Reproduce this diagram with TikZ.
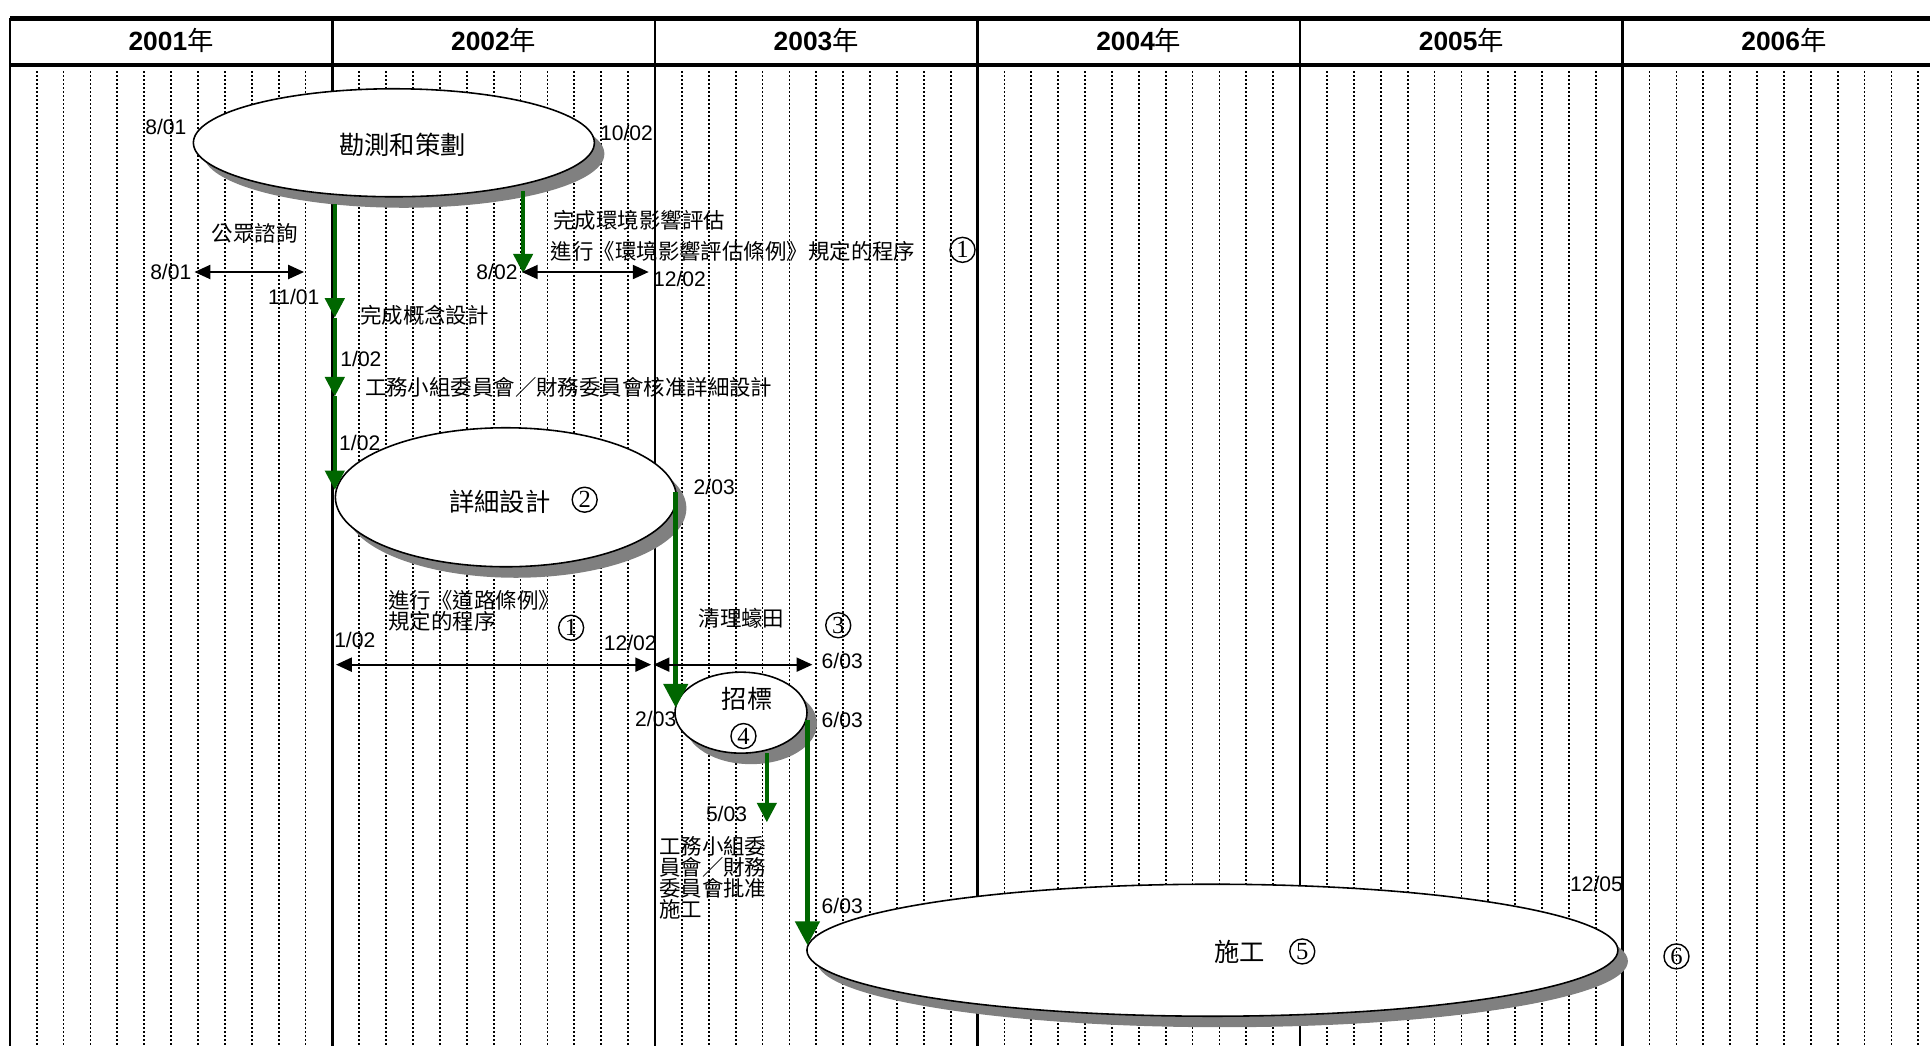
\documentclass[tikz,border=0pt]{standalone}
\usepackage{fontspec}
\setmainfont{Liberation Sans}
\newfontfamily\cjk{Noto Sans CJK TC}
\newfontfamily\numserif{Liberation Serif}
\usetikzlibrary{shapes.geometric, arrows.meta, shadows}
\definecolor{arrowgreen}{RGB}{0,102,0}
\definecolor{shadowgray}{RGB}{128,128,128}

\begin{document}
\begin{tikzpicture}[x=0.1231mm, y=-0.1231mm,
    yearlbl/.style={font=\fontsize{7.5}{9}\selectfont},
    datelbl/.style={inner sep=0, font=\fontsize{6}{7}\selectfont},
    notelbl/.style={inner sep=0, font=\cjk\fontsize{6.1}{6}\selectfont},
    phaselbl/.style={inner sep=0, font=\cjk\fontsize{7.2}{8}\selectfont},
    phase/.style={ellipse, draw, line width=0.45pt, fill=white, inner sep=0,
      drop shadow={shadow xshift=1.0mm, shadow yshift=-1.1mm, fill=shadowgray, opacity=1}},
    numcirc/.style={circle, draw, line width=0.4pt, inner sep=0, minimum size=2.5mm,
      font=\numserif\fontsize{7}{7}\selectfont},
    month/.style={line width=0.5pt, dash pattern=on 0.569pt off 0.569pt},
    yearline/.style={line width=0.7pt},
    milestone/.style={draw=arrowgreen, line width=1pt, -{Triangle[width=5.5pt, length=5.5pt]}},
    bigmilestone/.style={draw=arrowgreen, line width=1.4pt, -{Triangle[width=6.8pt, length=6.8pt]}},
    span/.style={line width=0.5pt, {Triangle[width=4pt, length=4.5pt]}-{Triangle[width=4pt, length=4.5pt]}}]

  \useasboundingbox (0,0) rectangle (1568,850);
  \fill[white] (0,0) rectangle (1568,850);

  % Month grid
  \foreach \yr in {0,...,5} {
    \foreach \mo in {1,...,11} {
      \draw[month] ({8+262.06*\yr+21.838*\mo},58) -- ++(0,792);
    }
  }
  \foreach \yr in {0,...,5}
    \draw[yearline] ({8+262.06*\yr},15) -- ({8+262.06*\yr},850);
  \draw[line width=1.2pt] (8,15) -- (1568,15);
  \draw[line width=1.2pt] (8,53) -- (1568,53);

  % Year headers
  \foreach \yr [count=\i from 0] in {2001,...,2006}
    \node[yearlbl] (y\yr) at ({139+262.06*\i},33) {{\bfseries\yr}{\cjk 年}};

  % Phases
  \node[phase, minimum width=40.1mm, minimum height=10.8mm] (survey) at (320,116) {};
  \node[phase, minimum width=34.1mm, minimum height=13.9mm] (design) at (411,404) {};
  \node[phase, minimum width=13.2mm, minimum height=8.1mm] (tender) at (602,579) {};
  \node[phase, minimum width=81.1mm, minimum height=13.2mm] (build) at (985,772) {};

  \node[phaselbl] (surveytxt) at (327,118) {勘測和策劃};
  \node[phaselbl] (designtxt) at (406,408) {詳細設計};
  \node[numcirc] (n2) at (475,406) {2};
  \node[phaselbl] (tendertxt) at (607,568) {招標};
  \node[numcirc] (n4) at (604,598) {4};
  \node[phaselbl] (buildtxt) at (1007,773) {施工};
  \node[numcirc] (n5) at (1058,773) {5};

  \node[numcirc] (n1a) at (782,203) {1};
  \node[numcirc] (n1b) at (464,510) {1};
  \node[numcirc] (n3) at (681,508) {3};
  \node[numcirc] (n6) at (1362,777) {6};

  % Milestone arrows
  \coordinate (ga) at (272,166);
  \coordinate (gb) at (272,258);
  \coordinate (gc) at (272,322);
  \coordinate (gd) at (272,398);
  \coordinate (eia1) at (425,155);
  \coordinate (eia2) at (425,222);
  \coordinate (tn1) at (549,400);
  \coordinate (tn2) at (549,575);
  \coordinate (ap1) at (623,612);
  \coordinate (ap2) at (623,668);
  \coordinate (bd1) at (656,585);
  \coordinate (bd2) at (656,768);
  \draw[milestone] (ga) -- (gb);
  \draw[milestone] (gb) -- (gc);
  \draw[milestone] (gc) -- (gd);
  \draw[milestone] (eia1) -- (eia2);
  \draw[bigmilestone] (tn1) -- (tn2);
  \draw[milestone] (ap1) -- (ap2);
  \draw[bigmilestone] (bd1) -- (bd2);

  % Duration spans
  \coordinate (cs1) at (158,221);
  \coordinate (cs2) at (247,221);
  \coordinate (ep1) at (424,221);
  \coordinate (ep2) at (527,221);
  \coordinate (rp1) at (273,540);
  \coordinate (rp2) at (529,540);
  \coordinate (oy1) at (531,540);
  \coordinate (oy2) at (660,540);
  \draw[span] (cs1) -- (cs2);
  \draw[span] (ep1) -- (ep2);
  \draw[span] (rp1) -- (rp2);
  \draw[span] (oy1) -- (oy2);

  % Dates
  \node[datelbl, anchor=east] (d1) at (152,103) {8/01};
  \node[datelbl, anchor=west] (d2) at (487,108) {10/02};
  \node[datelbl, anchor=east] (d3) at (156,221) {8/01};
  \node[datelbl, anchor=east] (d4) at (260,241) {11/01};
  \node[datelbl, anchor=west] (d5) at (276,292) {1/02};
  \node[datelbl, anchor=west] (d6) at (275,360) {1/02};
  \node[datelbl, anchor=east] (d7) at (421,221) {8/02};
  \node[datelbl, anchor=west] (d8) at (530,227) {12/02};
  \node[datelbl, anchor=west] (d9) at (563,396) {2/03};
  \node[datelbl, anchor=west] (d10) at (271,520) {1/02};
  \node[datelbl, anchor=east] (d11) at (534,522) {12/02};
  \node[datelbl, anchor=west] (d12) at (667,537) {6/03};
  \node[datelbl, anchor=east] (d13) at (550,584) {2/03};
  \node[datelbl, anchor=west] (d14) at (667,585) {6/03};
  \node[datelbl, anchor=west] (d15) at (573,661) {5/03};
  \node[datelbl, anchor=west] (d16) at (667,736) {6/03};
  \node[datelbl, anchor=west] (d17) at (1275,718) {12/05};

  % Notes
  \node[notelbl] (consult) at (207,190) {公眾諮詢};
  \node[notelbl, anchor=west] (concept) at (292,256) {完成概念設計};
  \node[notelbl, anchor=west] (approve1) at (296,315) {工務小組委員會／財務委員會核准詳細設計};
  \node[notelbl, anchor=west] (eiadone) at (449,179) {完成環境影響評估};
  \node[notelbl, anchor=west] (eiaproc) at (447,204) {進行《環境影響評估條例》規定的程序};
  \node[notelbl, anchor=west, align=left] (roadproc) at (315,496) {進行《道路條例》\\規定的程序};
  \node[notelbl, anchor=west] (oyster) at (567,502) {清理蠔田};
  \node[notelbl, anchor=west, align=left] (approve2) at (535,713) {工務小組委\\員會／財務\\委員會批准\\施工};
\end{tikzpicture}
\end{document}
